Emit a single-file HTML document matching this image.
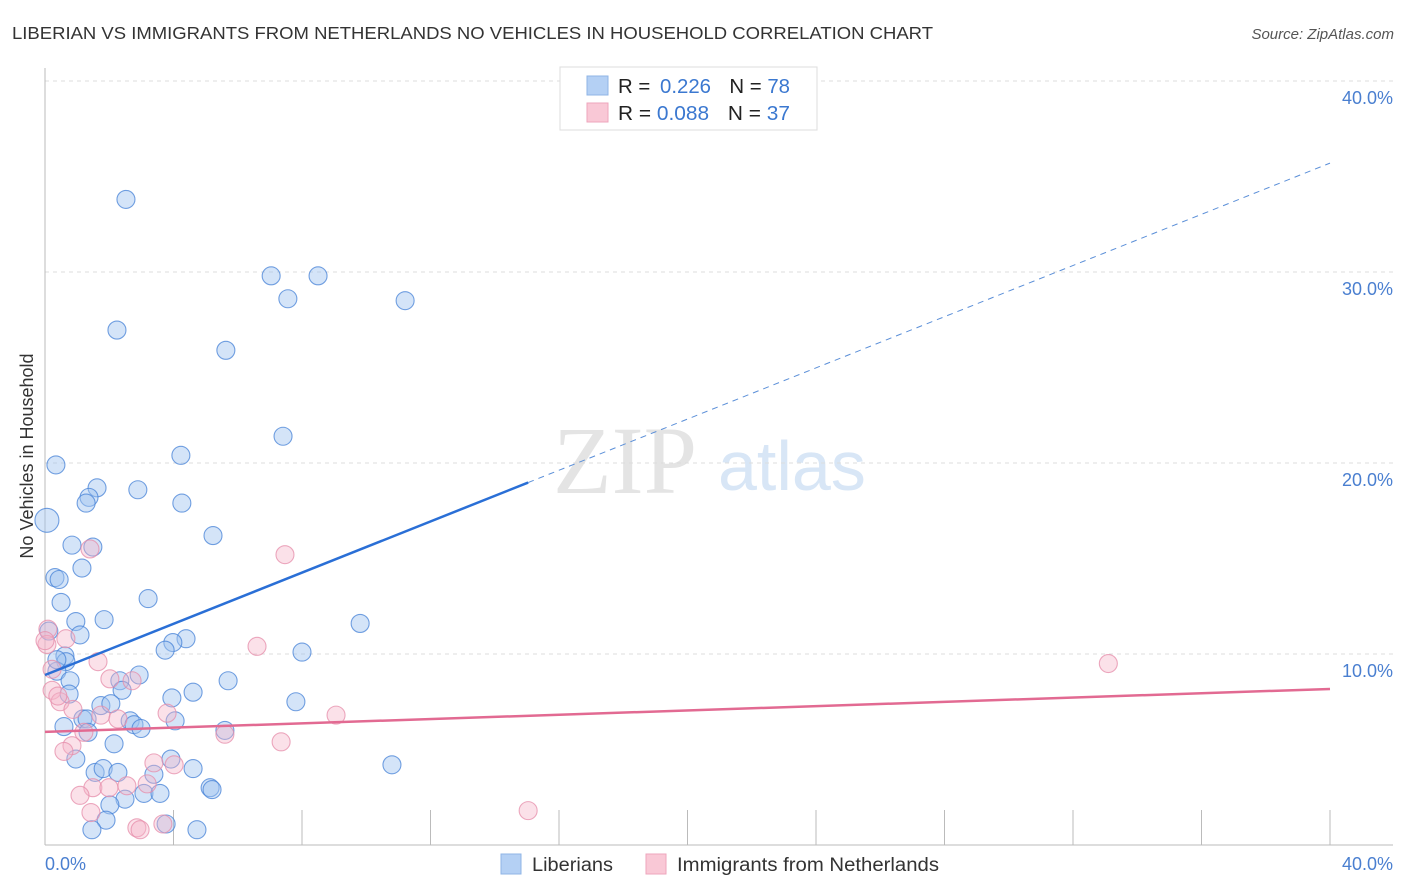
<!DOCTYPE html>
<html><head><meta charset="utf-8"><style>
body{margin:0;background:#fff;font-family:"Liberation Sans",sans-serif}
svg{display:block}
</style></head><body>
<svg id="chart" width="1406" height="892" xmlns="http://www.w3.org/2000/svg">
<text x="12" y="39" font-size="17.5" fill="#333" textLength="921" lengthAdjust="spacingAndGlyphs">LIBERIAN VS IMMIGRANTS FROM NETHERLANDS NO VEHICLES IN HOUSEHOLD CORRELATION CHART</text>
<text x="1394" y="39" font-size="15" fill="#555" font-style="italic" text-anchor="end">Source: ZipAtlas.com</text>
<g>
<text x="553" y="493" font-family="Liberation Serif,serif" font-size="96" fill="#e4e4e4">ZIP</text>
<text x="718" y="490" font-size="70" fill="#d8e6f6">atlas</text>
</g>
<g id="grid"></g>
<g id="axes"></g>
<g id="pts"></g>
<g id="lines"></g>
<text transform="translate(33,456) rotate(-90)" font-size="18" fill="#333" text-anchor="middle">No Vehicles in Household</text>
<text x="45" y="870" font-size="18" fill="#4a7fd0">0.0%</text>
<text x="1393" y="870" font-size="18" fill="#4a7fd0" text-anchor="end">40.0%</text>
<g>
<rect x="560" y="67" width="257" height="63" fill="#fff" stroke="#ddd"/>
<rect x="587" y="76" width="21" height="19" fill="#b4d0f4" stroke="#8fb4e6"/>
<rect x="587" y="103" width="21" height="19" fill="#f9c8d6" stroke="#eea6bc"/>
<text x="618" y="93" font-size="20" fill="#222" textLength="172" lengthAdjust="spacingAndGlyphs">R = <tspan fill="#3b78d0" dx="4">0.226</tspan><tspan dx="18" fill="#222">N = </tspan><tspan fill="#3b78d0">78</tspan></text>
<text x="618" y="120" font-size="20" fill="#222" textLength="172" lengthAdjust="spacingAndGlyphs">R = <tspan fill="#3b78d0">0.088</tspan><tspan dx="18" fill="#222">N = </tspan><tspan fill="#3b78d0">37</tspan></text>
</g>
<g>
<rect x="501" y="854" width="20" height="20" fill="#b4d0f4" stroke="#8fb4e6"/>
<text x="532" y="871" font-size="19" fill="#333" textLength="81" lengthAdjust="spacingAndGlyphs">Liberians</text>
<rect x="646" y="854" width="20" height="20" fill="#f9c8d6" stroke="#eea6bc"/>
<text x="677" y="871" font-size="19" fill="#333" textLength="262" lengthAdjust="spacingAndGlyphs">Immigrants from Netherlands</text>
</g>
</svg>
<script>
const yTicks=[10,20,30,40];
const yTickLabels=["10.0%","20.0%","30.0%","40.0%"];
const blueX=[2.52,7.04,8.50,7.56,11.21,2.24,5.63,7.41,4.23,0.34,1.62,2.89,1.37,1.28,4.26,0.06,5.23,0.84,1.49,1.15,0.31,0.44,3.21,0.50,1.84,9.81,0.96,0.12,1.09,4.39,3.98,3.74,8.00,0.62,0.65,0.37,0.78,2.93,2.33,2.40,4.61,5.70,3.95,0.75,7.81,1.74,2.05,4.05,2.65,1.18,1.31,0.59,2.77,2.99,5.60,1.34,2.15,0.96,3.92,10.8,4.61,1.56,1.81,2.27,3.39,5.14,3.08,3.58,2.49,2.02,1.90,3.77,1.46,4.73,0.37,5.2];
const blueY=[33.8,29.8,29.8,28.6,28.5,26.96,25.9,21.4,20.4,19.9,18.7,18.6,18.2,17.9,17.9,17.0,16.2,15.7,15.6,14.5,14.0,13.9,12.9,12.7,11.8,11.6,11.7,11.2,11.0,10.8,10.6,10.2,10.1,9.9,9.6,9.1,8.6,8.9,8.6,8.1,8.0,8.6,7.7,7.9,7.5,7.3,7.4,6.5,6.5,6.6,6.6,6.2,6.3,6.1,6.0,5.9,5.3,4.5,4.5,4.2,4.0,3.8,4.0,3.8,3.7,3.0,2.7,2.7,2.4,2.1,1.3,1.1,0.8,0.8,9.7,2.9];
const pinkX=[7.47,1.40,0.09,0.65,6.60,1.65,2.71,2.02,0.22,0.47,0.87,1.74,2.27,3.80,9.06,5.60,7.35,1.21,0.84,0.59,3.39,4.02,1.49,2.55,1.99,1.09,3.18,1.43,2.86,2.96,3.67,33.1,15.04,0.06,0.22,0.0,0.4];
const pinkY=[15.2,15.5,11.3,10.8,10.4,9.6,8.6,8.7,8.1,7.5,7.1,6.8,6.6,6.9,6.8,5.8,5.4,5.9,5.2,4.9,4.3,4.2,3.0,3.1,3.0,2.6,3.2,1.7,0.9,0.8,1.1,9.5,1.8,10.5,9.2,10.7,7.8];
const blueTrend=[8.9,35.7]; // y at x=0, x=40
const blueSolidEnd=15.04;
const pinkTrend=[5.92,8.17];
const NS="http://www.w3.org/2000/svg";
const xs=v=>45+v*32.125, ys=v=>845-v*19.1;
function mk(tag,attrs,parent){const e=document.createElementNS(NS,tag);for(const k in attrs)e.setAttribute(k,attrs[k]);parent.appendChild(e);return e;}
const grid=document.getElementById('grid'),axes=document.getElementById('axes'),pts=document.getElementById('pts'),lines=document.getElementById('lines');
yTicks.forEach((t,i)=>{
 const l=mk('line',{x1:45,x2:1393,y1:ys(t),y2:ys(t),stroke:'#ddd','stroke-dasharray':'4,4'},grid);
 
 
 const tx=mk('text',{x:1393,y:ys(t)+23,'font-size':18,fill:'#4a7fd0','text-anchor':'end'},grid);
 tx.textContent=yTickLabels[i];
 
 
});
let a=mk('line',{x1:45,x2:45,y1:68,y2:845,stroke:'#bbb'},axes);


a=mk('line',{x1:45,x2:1393,y1:845,y2:845,stroke:'#bbb'},axes);


for(let i=1;i<=10;i++){const x=xs(i*4);
 const t=mk('line',{x1:x,x2:x,y1:810,y2:845,stroke:'#bbb'},axes);
 
 }
blueX.forEach((v,i)=>{
 const c=mk('circle',{cx:xs(v),cy:ys(blueY[i]),r:(i==15?12:9),fill:'rgba(160,196,240,0.45)',stroke:'rgba(70,130,215,0.75)','stroke-width':1.1},pts);
 
 
});
pinkX.forEach((v,i)=>{
 const c=mk('circle',{cx:xs(v),cy:ys(pinkY[i]),r:9,fill:'rgba(246,180,200,0.4)',stroke:'rgba(230,140,170,0.75)','stroke-width':1.1},pts);
 
 
});
const by=x=>blueTrend[0]+(blueTrend[1]-blueTrend[0])*x/40;
let ln=mk('line',{x1:xs(0),y1:ys(by(0)),x2:xs(blueSolidEnd),y2:ys(by(blueSolidEnd)),stroke:'#2a6fd6','stroke-width':2.5},lines);


ln=mk('line',{x1:xs(blueSolidEnd),y1:ys(by(blueSolidEnd)),x2:xs(40),y2:ys(by(40)),stroke:'#5b8fd8','stroke-width':1,'stroke-dasharray':'6,5'},lines);


ln=mk('line',{x1:xs(0),y1:ys(pinkTrend[0]),x2:xs(40),y2:ys(pinkTrend[1]),stroke:'#e26a92','stroke-width':2.5},lines);


</script>
</body></html>
